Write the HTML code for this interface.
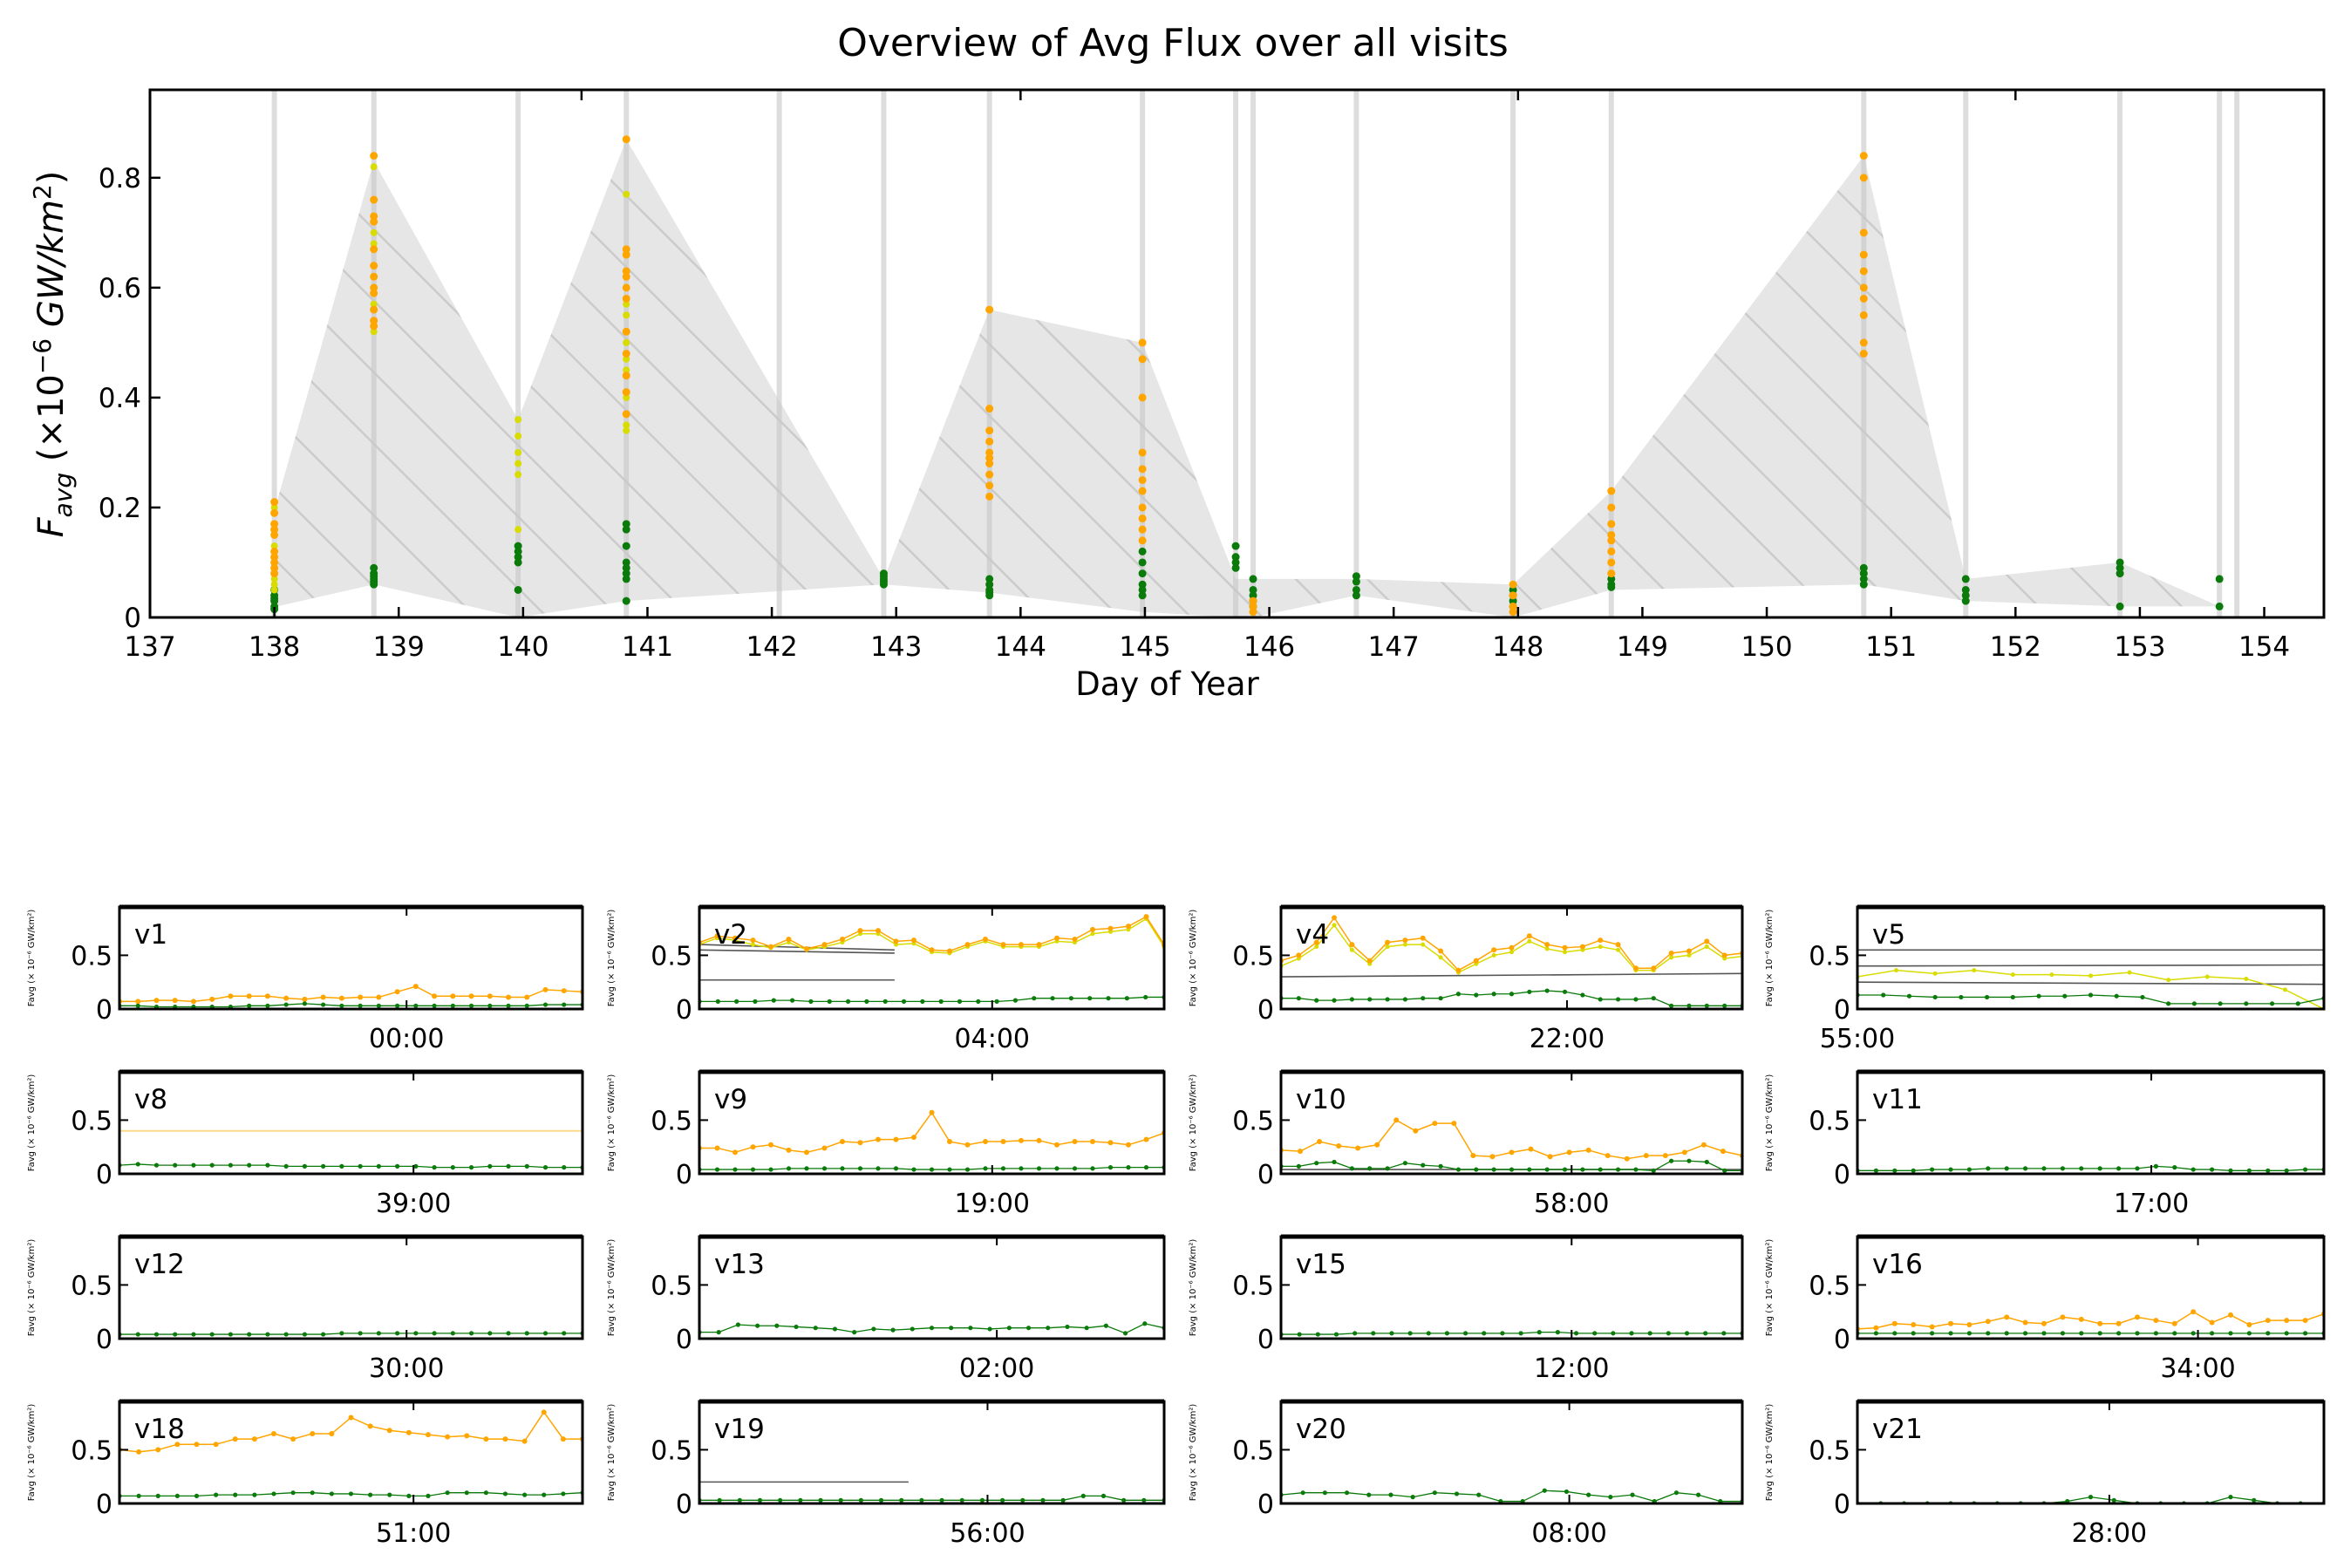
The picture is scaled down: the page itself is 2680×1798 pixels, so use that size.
<!DOCTYPE html>
<html><head><meta charset="utf-8">
<style>
html,body{margin:0;padding:0;background:#fff;}
svg{display:block;font-family:"DejaVu Sans","Liberation Sans",sans-serif;}
</style></head>
<body>
<svg id="chart" xmlns="http://www.w3.org/2000/svg" width="2680" height="1798" viewBox="0 0 2680 1798">
<defs>
<pattern id="hatch" patternUnits="userSpaceOnUse" width="58" height="58" patternTransform="rotate(-45)">
<rect width="58" height="58" fill="#e6e6e6"/>
<line x1="0" y1="0" x2="0" y2="58" stroke="#cbcbcb" stroke-width="5"/>
</pattern>
</defs>
<text x="1345" y="64" font-size="44" text-anchor="middle">Overview of Avg Flux over all visits</text>
<g id="main"></g>
<g id="panels"></g>
</svg>
<script>
// ---------- main chart data ----------
const xTicks = [137,138,139,140,141,142,143,144,145,146,147,148,149,150,151,152,153,154];
const yTicks = [0,0.2,0.4,0.6,0.8];
const yTickLabels = ["0","0.2","0.4","0.6","0.8"];
const bandDays = [138.0,138.8,139.96,140.83,142.06,142.9,143.75,144.98,145.73,145.87,146.7,147.96,148.75,150.78,151.6,152.84,153.64,153.78];
const envDays = [138.02,138.8,139.96,140.83,142.9,143.75,144.98,145.73,145.87,146.7,147.96,148.75,150.78,151.6,152.84,153.64];
const envUpper = [0.21,0.83,0.36,0.87,0.07,0.56,0.5,0.07,0.07,0.07,0.06,0.23,0.84,0.07,0.1,0.02];
const envLower = [0.02,0.06,0.0,0.03,0.06,0.045,0.01,0.0,0.0,0.04,0.0,0.05,0.06,0.03,0.02,0.02];
const clusterDays = [138.0,138.8,139.96,140.83,142.9,143.75,144.98,145.73,145.87,146.7,147.96,148.75,150.78,151.6,152.84,153.64];
const orangeVals = [
 [0.21,0.19,0.17,0.16,0.15,0.12,0.11,0.1,0.09,0.08],
 [0.84,0.76,0.73,0.72,0.67,0.64,0.62,0.6,0.59,0.56,0.54,0.53],
 [],
 [0.87,0.67,0.66,0.63,0.62,0.6,0.58,0.52,0.48,0.44,0.41,0.37],
 [],
 [0.56,0.38,0.34,0.32,0.3,0.29,0.28,0.26,0.24,0.22],
 [0.5,0.47,0.4,0.3,0.27,0.25,0.23,0.2,0.18,0.16,0.14],
 [],
 [0.03,0.02,0.01],
 [],
 [0.06,0.04,0.02,0.01],
 [0.23,0.2,0.17,0.15,0.14,0.12,0.1,0.08],
 [0.84,0.8,0.7,0.66,0.63,0.6,0.58,0.55,0.5,0.48],
 [],[],[]
];
const yellowVals = [
 [0.2,0.13,0.11,0.1,0.08,0.07,0.06,0.05],
 [0.82,0.7,0.68,0.62,0.6,0.57,0.52],
 [0.36,0.33,0.3,0.28,0.26,0.16],
 [0.77,0.57,0.55,0.5,0.47,0.45,0.4,0.35,0.34],
 [],[],[],[],[],[],[],[],[],[],[],[]
];
const greenVals = [
 [0.05,0.04,0.035,0.03,0.02,0.015],
 [0.09,0.08,0.075,0.07,0.065,0.06],
 [0.13,0.12,0.11,0.1,0.05],
 [0.17,0.16,0.13,0.1,0.09,0.08,0.07,0.03],
 [0.08,0.075,0.07,0.065,0.06],
 [0.07,0.06,0.05,0.045,0.04],
 [0.12,0.1,0.08,0.06,0.05,0.04],
 [0.13,0.11,0.1,0.09],
 [0.07,0.05,0.04,0.03,0.02],
 [0.075,0.065,0.05,0.04],
 [0.05,0.04,0.03,0.02],
 [0.07,0.06,0.055],
 [0.09,0.08,0.07,0.06],
 [0.07,0.05,0.04,0.03],
 [0.1,0.09,0.08,0.02],
 [0.07,0.02]
];
// ---------- panel data ----------
const panelNames = ["v1","v2","v4","v5","v8","v9","v10","v11","v12","v13","v15","v16","v18","v19","v20","v21"];
const panelTickLabels = ["00:00","04:00","22:00","55:00","39:00","19:00","58:00","17:00","30:00","02:00","12:00","34:00","51:00","56:00","08:00","28:00"];
const panelTickFrac = [0.62,0.63,0.62,0.0,0.635,0.63,0.63,0.63,0.62,0.64,0.63,0.73,0.635,0.62,0.625,0.54];
const panelOrange = [
 [0.07,0.07,0.08,0.08,0.07,0.09,0.12,0.12,0.12,0.1,0.09,0.11,0.1,0.11,0.11,0.16,0.21,0.12,0.12,0.12,0.12,0.11,0.11,0.18,0.17,0.16],
 [0.62,0.68,0.66,0.64,0.58,0.65,0.56,0.6,0.65,0.73,0.73,0.63,0.64,0.55,0.54,0.6,0.65,0.6,0.6,0.6,0.66,0.65,0.74,0.75,0.77,0.86,0.6],
 [0.45,0.5,0.62,0.85,0.6,0.45,0.62,0.64,0.66,0.54,0.36,0.45,0.55,0.57,0.68,0.6,0.57,0.58,0.64,0.6,0.38,0.38,0.52,0.54,0.63,0.5,0.52],
 [],
 [],
 [0.24,0.24,0.2,0.25,0.27,0.22,0.2,0.24,0.3,0.29,0.32,0.32,0.34,0.57,0.3,0.27,0.3,0.3,0.31,0.31,0.27,0.3,0.3,0.29,0.27,0.32,0.38],
 [0.22,0.21,0.3,0.26,0.24,0.27,0.5,0.4,0.47,0.47,0.17,0.16,0.2,0.23,0.16,0.2,0.22,0.17,0.14,0.17,0.17,0.2,0.27,0.21,0.17],
 [],[],[],[],
 [0.09,0.1,0.14,0.13,0.11,0.14,0.13,0.16,0.2,0.15,0.14,0.2,0.18,0.14,0.14,0.2,0.17,0.14,0.25,0.15,0.22,0.13,0.17,0.17,0.17,0.23],
 [0.5,0.48,0.5,0.55,0.55,0.55,0.6,0.6,0.65,0.6,0.65,0.65,0.8,0.72,0.68,0.66,0.64,0.62,0.63,0.6,0.6,0.58,0.85,0.6,0.6],
 [],[],[]
];
const panelYellow = [
 [],[0.6,0.66,0.64,0.6,0.57,0.62,0.55,0.58,0.62,0.7,0.7,0.6,0.61,0.53,0.52,0.58,0.63,0.58,0.58,0.58,0.63,0.62,0.7,0.72,0.74,0.84,0.58],
 [0.4,0.47,0.58,0.78,0.55,0.42,0.58,0.6,0.6,0.48,0.34,0.42,0.5,0.53,0.63,0.56,0.53,0.55,0.58,0.55,0.36,0.36,0.48,0.5,0.58,0.47,0.49],
 [0.3,0.36,0.33,0.36,0.32,0.32,0.31,0.34,0.27,0.3,0.28,0.18,0.0],
 [],[],[],[],[],[],[],[],[],[],[],[]
];
const panelGreen = [
 [0.03,0.03,0.02,0.02,0.02,0.02,0.02,0.03,0.03,0.04,0.05,0.04,0.03,0.03,0.03,0.03,0.03,0.03,0.03,0.03,0.03,0.03,0.03,0.04,0.04,0.04],
 [0.07,0.07,0.07,0.07,0.08,0.08,0.07,0.07,0.07,0.07,0.07,0.07,0.07,0.07,0.07,0.07,0.07,0.08,0.1,0.1,0.1,0.1,0.1,0.1,0.11,0.11],
 [0.1,0.1,0.08,0.08,0.09,0.09,0.09,0.09,0.1,0.1,0.14,0.13,0.14,0.14,0.16,0.17,0.16,0.13,0.09,0.09,0.09,0.1,0.03,0.03,0.03,0.03,0.03],
 [0.13,0.13,0.12,0.11,0.11,0.11,0.11,0.12,0.12,0.13,0.12,0.11,0.05,0.05,0.05,0.05,0.05,0.05,0.1],
 [0.08,0.09,0.08,0.08,0.08,0.08,0.08,0.08,0.08,0.07,0.07,0.07,0.07,0.07,0.07,0.07,0.07,0.06,0.06,0.06,0.07,0.07,0.07,0.06,0.06,0.06],
 [0.04,0.04,0.04,0.04,0.04,0.05,0.05,0.05,0.05,0.05,0.05,0.05,0.04,0.04,0.04,0.04,0.05,0.05,0.05,0.05,0.05,0.05,0.05,0.06,0.06,0.06,0.06],
 [0.07,0.07,0.1,0.11,0.05,0.05,0.05,0.1,0.08,0.07,0.04,0.04,0.04,0.04,0.04,0.04,0.04,0.04,0.04,0.04,0.04,0.03,0.12,0.12,0.11,0.03,0.03],
 [0.03,0.03,0.03,0.03,0.04,0.04,0.04,0.05,0.05,0.05,0.05,0.05,0.05,0.05,0.05,0.05,0.07,0.06,0.04,0.04,0.03,0.03,0.03,0.03,0.04,0.04],
 [0.04,0.04,0.04,0.04,0.04,0.04,0.04,0.04,0.04,0.04,0.04,0.04,0.05,0.05,0.05,0.05,0.05,0.05,0.05,0.05,0.05,0.05,0.05,0.05,0.05,0.05],
 [0.06,0.06,0.13,0.12,0.12,0.11,0.1,0.09,0.06,0.09,0.08,0.09,0.1,0.1,0.1,0.09,0.1,0.1,0.1,0.11,0.1,0.12,0.05,0.14,0.1],
 [0.04,0.04,0.04,0.04,0.05,0.05,0.05,0.05,0.05,0.05,0.05,0.05,0.05,0.05,0.06,0.06,0.05,0.05,0.05,0.05,0.05,0.05,0.05,0.05,0.05,0.05],
 [0.05,0.05,0.05,0.05,0.05,0.05,0.05,0.05,0.05,0.05,0.05,0.05,0.05,0.05,0.05,0.05,0.05,0.05,0.05,0.05,0.05,0.05,0.05,0.05,0.05,0.05],
 [0.07,0.07,0.07,0.07,0.07,0.08,0.08,0.08,0.09,0.1,0.1,0.09,0.09,0.08,0.08,0.07,0.07,0.1,0.1,0.1,0.09,0.08,0.08,0.09,0.1],
 [0.03,0.03,0.03,0.03,0.03,0.03,0.03,0.03,0.03,0.03,0.03,0.03,0.03,0.03,0.03,0.03,0.03,0.03,0.03,0.07,0.07,0.03,0.03,0.03],
 [0.08,0.1,0.1,0.1,0.08,0.08,0.06,0.1,0.09,0.08,0.02,0.02,0.12,0.11,0.08,0.06,0.08,0.02,0.1,0.08,0.02,0.02],
 [0,0,0,0,0,0,0,0,0,0.02,0.06,0.03,0,0,0,0,0.06,0.03,0,0,0]
];
const panelGrayLines = [[],[[0.6,0.55],[0.55,0.52],[0.27,0.27]],[[0.3,0.33]],[[0.55,0.55],[0.4,0.41],[0.25,0.23]],[],[],[[0.04,0.04]],[],[],[],[],[],[],[[0.2,0.2]],[],[]];
const panelGrayExtent = [0,0.42,1,1,0,0,1,0,0,0,0,0,0,0.45,0,0];

const NS="http://www.w3.org/2000/svg";
function mk(tag,attrs,parent){const e=document.createElementNS(NS,tag);for(const k in attrs)e.setAttribute(k,attrs[k]);parent.appendChild(e);return e;}

// ---------- main chart ----------
const M={l:172,r:2665,t:103,b:708,x0:137,x1:154.48,y0:0,y1:0.96};
const X=d=>M.l+(d-M.x0)/(M.x1-M.x0)*(M.r-M.l);
const Y=v=>M.b-(v-M.y0)/(M.y1-M.y0)*(M.b-M.t);
const g=document.getElementById('main');
const clip=mk('clipPath',{id:'mclip'},g);mk('rect',{x:M.l,y:M.t,width:M.r-M.l,height:M.b-M.t},clip);
const plot=mk('g',{'clip-path':'url(#mclip)'},g);
let pts=envDays.map((d,i)=>X(d)+','+Y(envUpper[i]));
for(let i=envDays.length-1;i>=0;i--)pts.push(X(envDays[i])+','+Y(envLower[i]));
const env=mk('polygon',{points:pts.join(' '),fill:'url(#hatch)'},plot);


bandDays.forEach(d=>{
  const b=mk('line',{x1:X(d),x2:X(d),y1:M.t,y2:M.b,stroke:'#c8c8c8','stroke-width':6,opacity:0.6},plot);
  
  
});
function cluster(vals,color,r){
  vals.forEach((arr,i)=>arr.forEach(v=>{
    const c=mk('circle',{cx:X(clusterDays[i]),cy:Y(v),r:r,fill:color},plot);
    
    
  }));
}
cluster(greenVals,'#0a7a0a',4.5);
cluster(yellowVals,'#d8dc00',4);
cluster(orangeVals,'#ffa500',4.5);
mk('rect',{x:M.l,y:M.t,width:M.r-M.l,height:M.b-M.t,fill:'none',stroke:'#000','stroke-width':3},g);
xTicks.forEach(t=>{
  const x=X(t);
  mk('line',{x1:x,x2:x,y1:M.b,y2:M.b-12,stroke:'#000','stroke-width':2.5},g);
  const tx=mk('text',{x:x,y:M.b+44,'font-size':31,'text-anchor':'middle'},g);tx.textContent=t;
  
  
});
[140.47,144.0,148.0,152.0].forEach(t=>mk('line',{x1:X(t),x2:X(t),y1:M.t,y2:M.t+12,stroke:'#000','stroke-width':2.5},g));
yTicks.forEach((t,i)=>{
  const y=Y(t);
  mk('line',{x1:M.l,x2:M.l+12,y1:y,y2:y,stroke:'#000','stroke-width':2.5},g);
  const tx=mk('text',{x:M.l-10,y:y+11,'font-size':31,'text-anchor':'end'},g);tx.textContent=yTickLabels[i];
  
  
});
const xl=mk('text',{x:(M.l+M.r)/2-80,y:797,'font-size':37,'text-anchor':'middle'},g);xl.textContent='Day of Year';


const yl=mk('text',{x:0,y:0,'font-size':40,'text-anchor':'middle',transform:'translate(72,406) rotate(-90)'},g);
yl.innerHTML='<tspan font-style="italic">F</tspan><tspan font-style="italic" font-size="28" dy="10">avg</tspan><tspan dy="-10"> (×10</tspan><tspan font-size="28" dy="-14">−6</tspan><tspan dy="14" font-style="italic"> GW/km</tspan><tspan font-size="28" dy="-14">2</tspan><tspan dy="14">)</tspan>';



// ---------- small panels ----------
const pg=document.getElementById('panels');
const colL=[137,802,1469,2130], colR=[668,1335,1998,2665];
const rowT=[1040,1229,1418,1607], PH=117, PYMAX=0.95;
panelNames.forEach((name,i)=>{
  const c=i%4,r=Math.floor(i/4);
  const L=colL[c],R=colR[c],T=rowT[r],B=T+PH;
  const gp=mk('g',{},pg);
  
  
  const cp=mk('clipPath',{id:'pc'+i},gp);mk('rect',{x:L,y:T,width:R-L,height:PH},cp);
  const pl=mk('g',{'clip-path':'url(#pc'+i+')'},gp);
  const py=v=>B-v/PYMAX*PH;
  const ext=panelGrayExtent[i];
  panelGrayLines[i].forEach(ln=>{
    const l=mk('line',{x1:L,x2:L+(R-L)*ext,y1:py(ln[0]),y2:py(ln[1]),stroke:'#555','stroke-width':1.6},pl);
    
    
  });
  function series(arr,color,sw,rad,nm){
    if(!arr.length)return;
    const n=arr.length, px=k=>L+(R-L)*k/(n-1);
    const p=mk('polyline',{points:arr.map((v,k)=>px(k)+','+py(v)).join(' '),fill:'none',stroke:color,'stroke-width':sw},pl);
    
    
    arr.forEach((v,k)=>{
      const c2=mk('circle',{cx:px(k),cy:py(v),r:rad,fill:color},pl);
      
      
    });
  }
  if(name==='v8'){mk('line',{x1:L,x2:R,y1:py(0.4),y2:py(0.4),stroke:'#fcd88a','stroke-width':2},pl);}
  series(panelYellow[i],'#d8dc00',1.5,2.5,'yellow-series');
  series(panelOrange[i],'#ffa500',1.5,3,'orange-series');
  series(panelGreen[i],'#0a7a0a',1.3,2.6,'green-series');
  mk('rect',{x:L,y:T,width:R-L,height:PH,fill:'none',stroke:'#000','stroke-width':3},gp);
  mk('line',{x1:L,x2:R,y1:T,y2:T,stroke:'#000','stroke-width':5},gp);
  const tx=L+(R-L)*panelTickFrac[i];
  mk('line',{x1:tx,x2:tx,y1:B,y2:B-10,stroke:'#000','stroke-width':2},gp);
  mk('line',{x1:tx,x2:tx,y1:T,y2:T+10,stroke:'#000','stroke-width':2},gp);
  const tl=mk('text',{x:tx,y:B+44,'font-size':30,'text-anchor':'middle'},gp);tl.textContent=panelTickLabels[i];
  
  
  [[0,'0'],[0.5,'0.5']].forEach(([v,s])=>{
    mk('line',{x1:L,x2:L+10,y1:py(v),y2:py(v),stroke:'#000','stroke-width':2},gp);
    const t=mk('text',{x:L-8,y:py(v)+11,'font-size':30,'text-anchor':'end'},gp);t.textContent=s;
    
    
  });
  const lb=mk('text',{x:L+17,y:T+42,'font-size':31},gp);lb.textContent=name;
  
  
  const yt=mk('text',{x:0,y:0,'font-size':10,'text-anchor':'middle',transform:'translate('+(L-98)+','+(T+PH/2)+') rotate(-90)'},gp);
  yt.textContent='Favg (× 10⁻⁶ GW/km²)';
  
  
});
</script>
</body></html>
